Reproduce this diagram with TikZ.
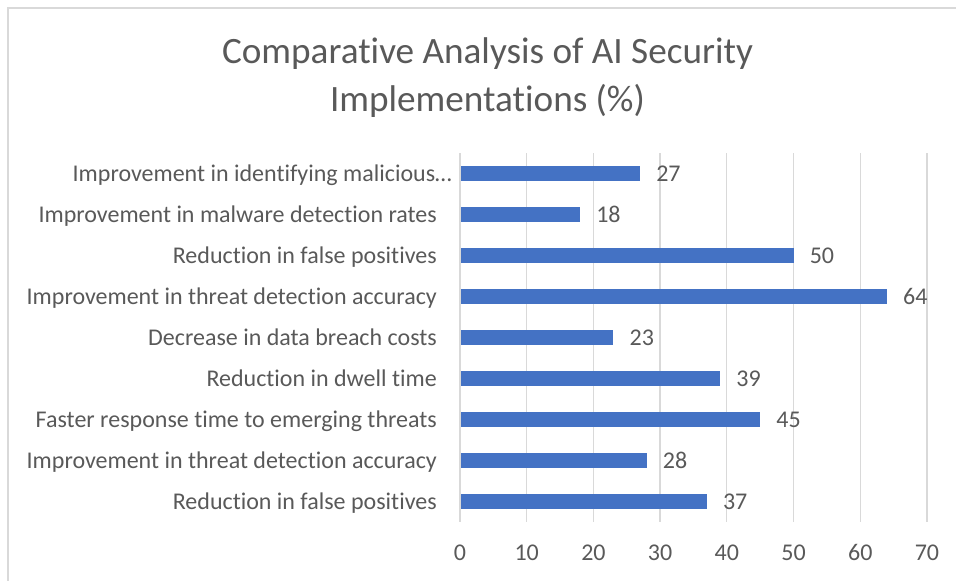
\documentclass[tikz,border=0pt]{standalone}
\usepackage{fontspec}
\setmainfont{Carlito}[Ligatures=NoCommon]
\definecolor{barblue}{HTML}{4472C4}
\definecolor{txtgray}{HTML}{595959}
\definecolor{gridgray}{HTML}{D9D9D9}

\begin{document}
\begin{tikzpicture}[x=1pt, y=-1pt,
    gridline/.style={gridgray, line width=1.3pt},
    barfill/.style={fill=barblue, draw=none},
    catlabel/.style={anchor=base east, inner sep=0pt, text=txtgray, font=\fontsize{24}{28}\selectfont},
    vallabel/.style={anchor=base west, inner sep=0pt, text=txtgray, font=\fontsize{24}{28}\selectfont},
    ticklabel/.style={anchor=base, inner sep=0pt, text=txtgray, font=\fontsize{24}{28}\selectfont}]
    \useasboundingbox (0,0) rectangle (956,581);

    % Chart frame
    \draw[gridgray, line width=1.3pt] (8,600) -- (8,8) -- (970,8);

    % Title
    \node[text=txtgray, align=center, font=\fontsize{37.2}{48}\selectfont] (title) at (487.5,78)
        {Comparative Analysis of AI Security\\Implementations (\%)};

    % Grid lines and axis values
    \foreach \v in {0,10,...,70} {
        \draw[gridline] (460+\v*6.671,153) -- (460+\v*6.671,522);
        \node[ticklabel] (tick\v) at (460+\v*6.671,560) {\v};
    }

    % Bars with category and value labels
    \foreach \val/\txt/\rx [count=\i] in {
        27/Improvement in identifying malicious…/452,
        18/Improvement in malware detection rates/437,
        50/Reduction in false positives/437,
        64/Improvement in threat detection accuracy/437,
        23/Decrease in data breach costs/437,
        39/Reduction in dwell time/437,
        45/Faster response time to emerging threats/437,
        28/Improvement in threat detection accuracy/437,
        37/Reduction in false positives/437} {
        \pgfmathsetmacro{\yc}{132.5+41*\i}
        \filldraw[barfill] (460.7,\yc-7.2) rectangle (460+\val*6.671,\yc+7.2);
        \node[catlabel] (cat\i) at (\rx,\yc+7.5) {\txt};
        \node[vallabel] (val\i) at (460+\val*6.671+16,\yc+7.5) {\val};
    }
\end{tikzpicture}
\end{document}
